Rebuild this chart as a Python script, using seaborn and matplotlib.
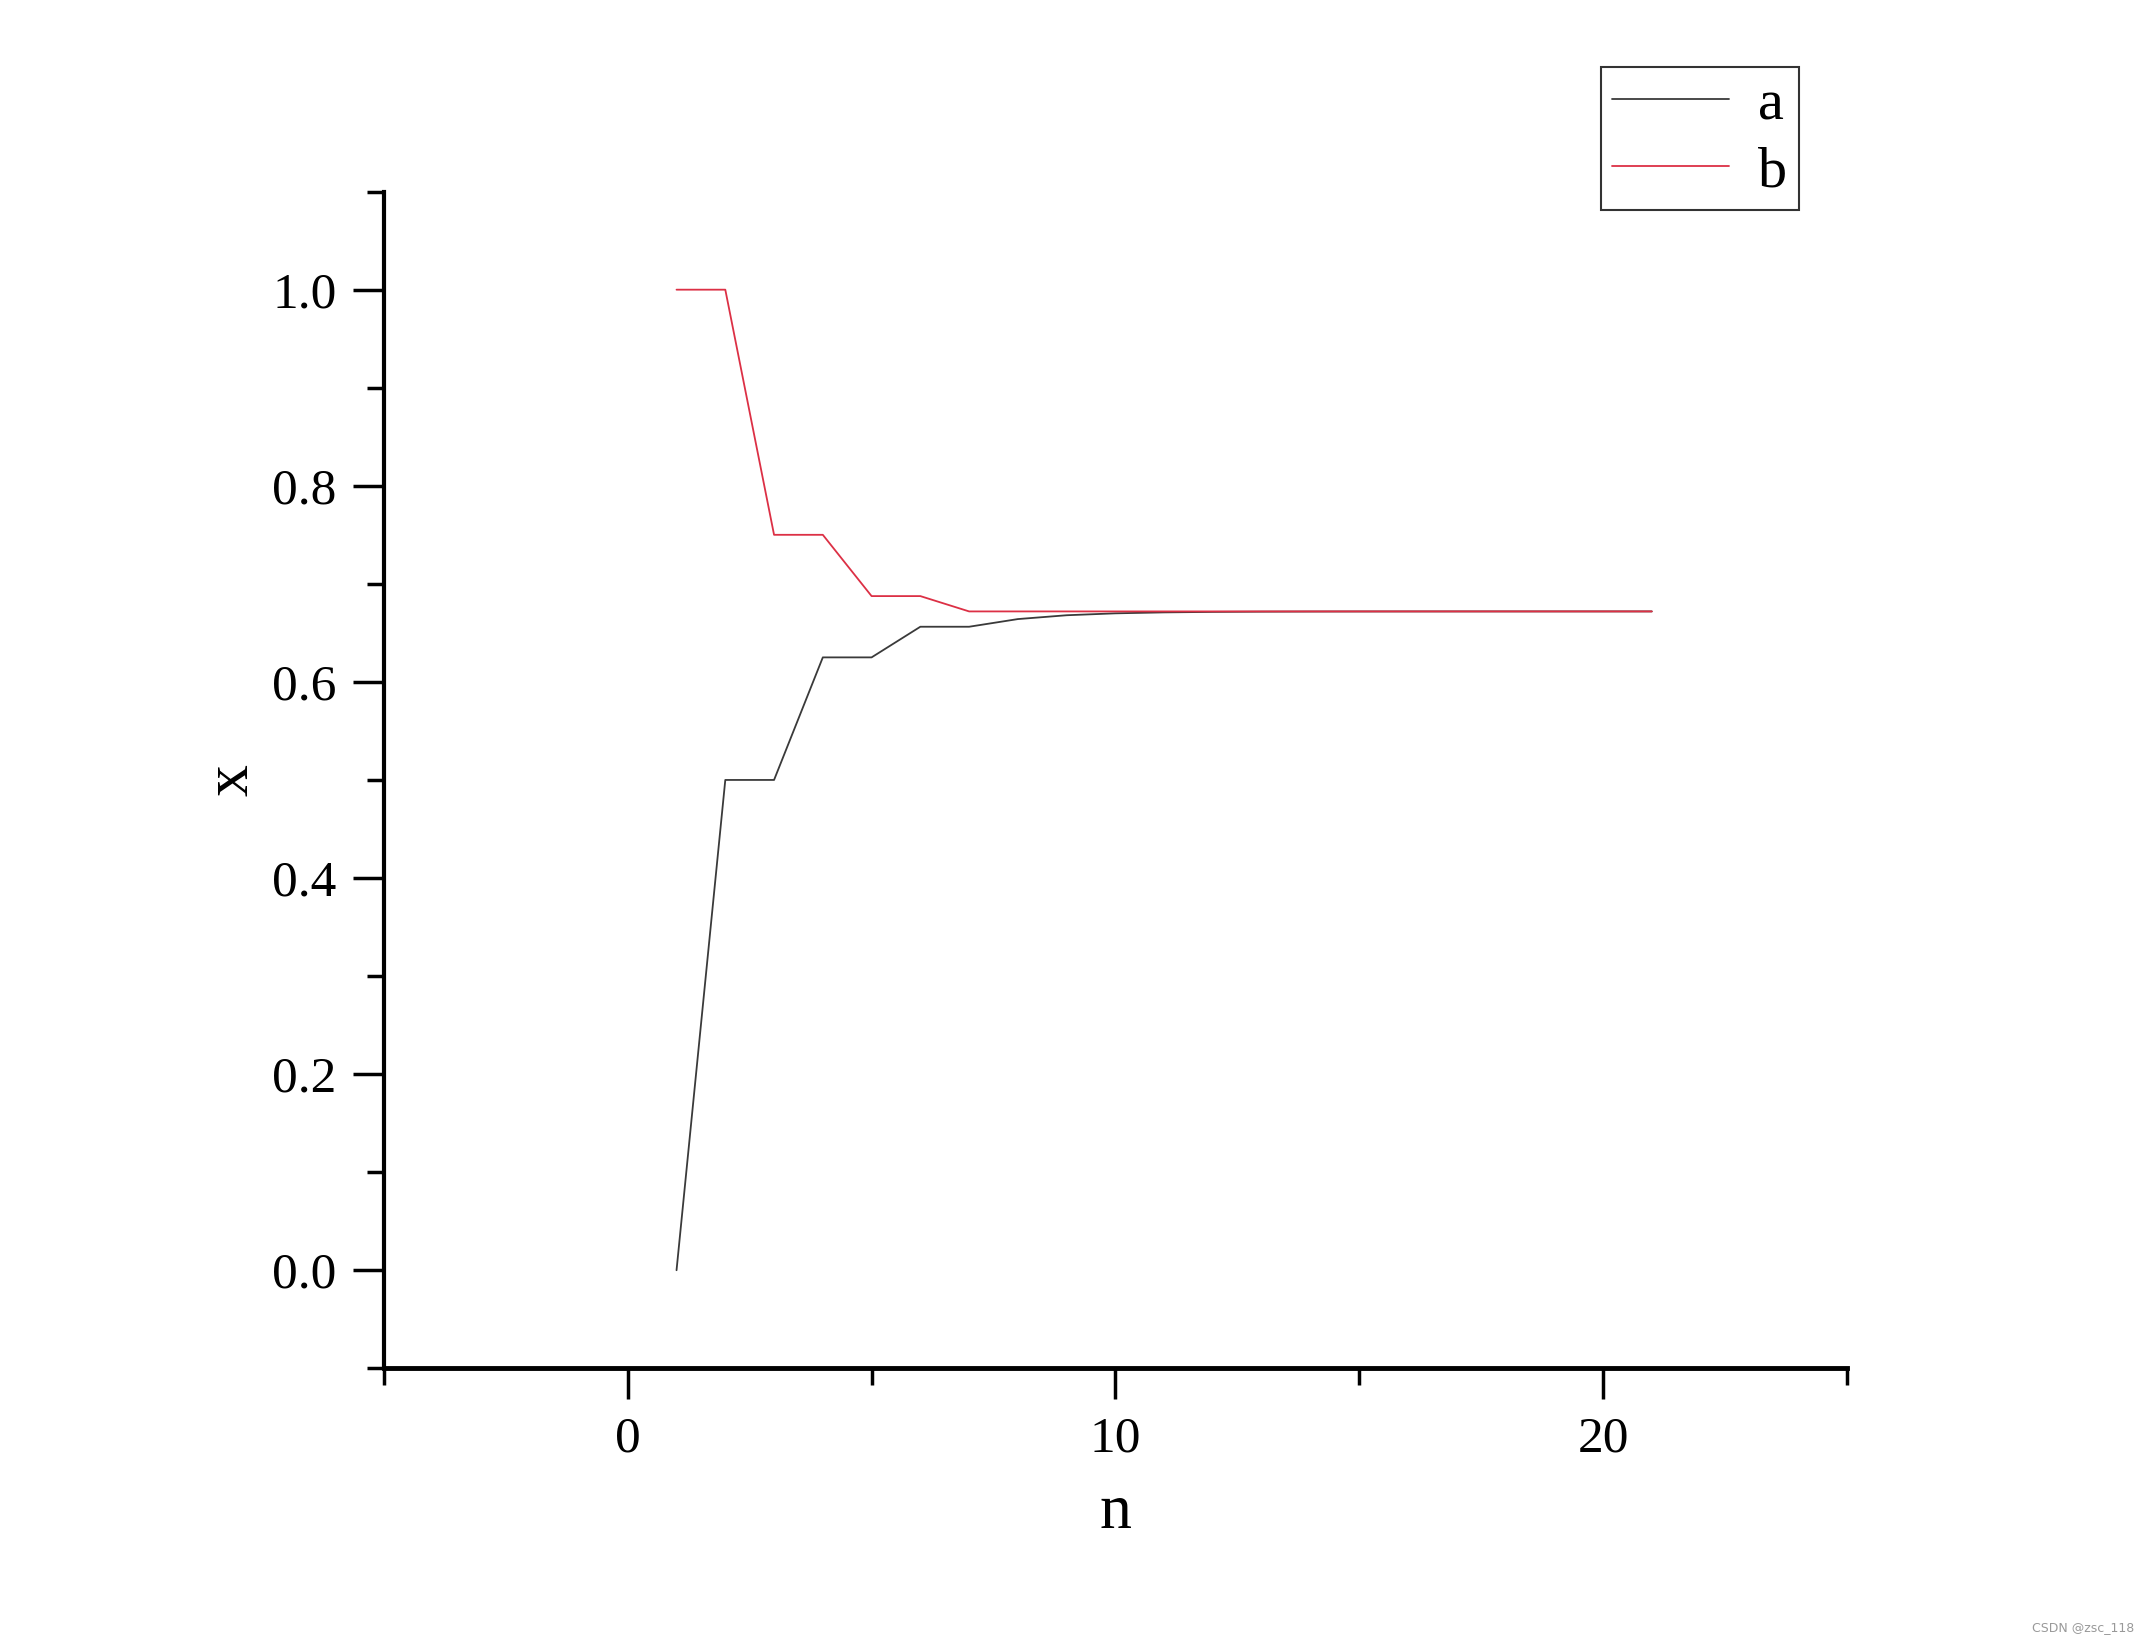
# Curvas a(n) y b(n) del método de bisección
import matplotlib
matplotlib.use("Agg")
import matplotlib.pyplot as plt
from matplotlib.ticker import MultipleLocator
from matplotlib.lines import Line2D
import seaborn as sns
import pandas as pd

# DATOS
n = list(range(1, 22))
a = [0.0, 0.5, 0.5, 0.625, 0.625, 0.65625, 0.65625, 0.6640625, 0.66796875,
     0.669921875, 0.6708984375, 0.67138671875, 0.671630859375, 0.6717529296875,
     0.67181396484375, 0.671844482421875, 0.6718597412109375, 0.6718673706054688,
     0.6718711853027344, 0.6718730926513672, 0.6718740463256836]
b = [1.0, 1.0, 0.75, 0.75, 0.6875, 0.6875, 0.671875, 0.671875, 0.671875,
     0.671875, 0.671875, 0.671875, 0.671875, 0.671875, 0.671875, 0.671875,
     0.671875, 0.671875, 0.671875, 0.671875, 0.671875]
series_names = ['a', 'b']
colores = {'a': '#3a3a3a', 'b': '#dc3045'}

df = pd.DataFrame({
    'n': n * 2,
    'x': a + b,
    'serie': [series_names[0]] * len(a) + [series_names[1]] * len(b),
})

# ESTILO
sns.set_style('ticks', {'axes.edgecolor': 'black', 'text.color': 'black',
                        'xtick.color': 'black', 'ytick.color': 'black',
                        'axes.labelcolor': 'black'})
plt.rcParams['font.family'] = ['Liberation Serif', 'DejaVu Serif']

fig = plt.figure(figsize=(21.45, 16.42), dpi=100)
ax = fig.add_axes([0.179, 0.1667, 0.682, 0.7166])

sns.lineplot(data=df, x='n', y='x', hue='serie', palette=colores,
             linewidth=1.3, ax=ax, legend=False)

ax.set_xlim(-5, 25)
ax.set_ylim(-0.1, 1.1)
ax.xaxis.set_major_locator(MultipleLocator(10))
ax.xaxis.set_minor_locator(MultipleLocator(5))
ax.yaxis.set_major_locator(MultipleLocator(0.2))
ax.yaxis.set_minor_locator(MultipleLocator(0.1))
ax.yaxis.set_major_formatter(plt.FuncFormatter(lambda v, p: f'{v:.1f}'))

ax.spines['top'].set_visible(False)
ax.spines['right'].set_visible(False)
ax.spines['left'].set_linewidth(3)
ax.spines['bottom'].set_linewidth(3.5)
ax.tick_params(which='major', direction='out', length=22, width=2.5,
               labelsize=37, pad=12, color='black', labelcolor='black')
ax.tick_params(which='minor', direction='out', length=12, width=2.5, color='black')

ax.set_xlabel('n', fontsize=46, labelpad=16, color='black')
ax.set_ylabel('x', fontsize=46, labelpad=8, color='black')

# LEYENDA fuera del área de ejes
handles = [Line2D([], [], color=colores['a'], linewidth=1.3),
           Line2D([], [], color=colores['b'], linewidth=1.3)]
leg = fig.legend(handles, series_names, loc='upper right',
                 bbox_to_anchor=(0.8387, 0.959), fontsize=42,
                 frameon=True, fancybox=False, edgecolor='black',
                 handlelength=2.0, handletextpad=0.5, labelspacing=0.24,
                 borderpad=0.2, borderaxespad=0)
leg.get_frame().set_linewidth(1.5)
for t in leg.get_texts():
    t.set_color('black')

fig.text(0.995, 0.005, 'CSDN @zsc_118', ha='right', va='bottom',
         fontsize=9, color='#999999', family='DejaVu Sans')

plt.savefig('out.png', dpi=100)
